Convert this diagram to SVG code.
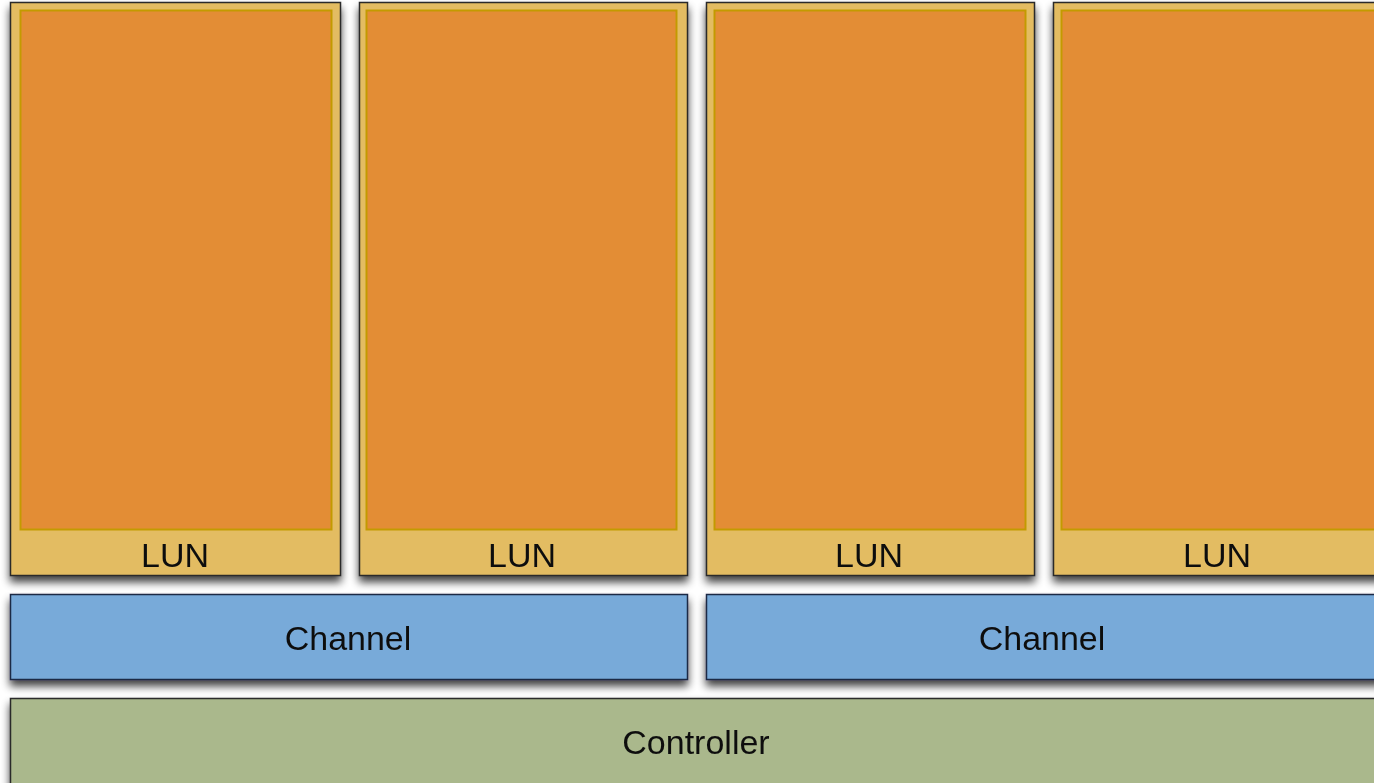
<svg xmlns="http://www.w3.org/2000/svg" width="1374" height="783" viewBox="0 0 1374 783">
<defs>
<filter id="sh" x="-10%" y="-10%" width="120%" height="130%">
<feGaussianBlur in="SourceAlpha" stdDeviation="4"/>
<feOffset dx="0" dy="6" result="b"/>
<feComponentTransfer><feFuncA type="linear" slope="0.75"/></feComponentTransfer>
<feMerge><feMergeNode/><feMergeNode in="SourceGraphic"/></feMerge>
</filter>
</defs>
<style>
.lun{fill:#E3BC62;stroke:#2b2b2b;stroke-width:1.5}
.die{fill:#E38D36;stroke:#C39A00;stroke-width:2}
.ch{fill:#78AAD9;stroke:#1c2a45;stroke-width:1.5}
.ct{fill:#AAB88C;stroke:#2b2b2b;stroke-width:1.5}
text{font-family:"Liberation Sans",Arial,sans-serif;font-size:34px;fill:#111;text-anchor:middle}
</style>
<rect width="1374" height="783" fill="#ffffff"/>
<g id="lun1" filter="url(#sh)"><rect class="lun" x="10.5" y="2.5" width="330" height="573"/><rect class="die" x="20.5" y="10.5" width="311" height="519"/><text x="175" y="567">LUN</text></g>
<g id="lun2" filter="url(#sh)"><rect class="lun" x="359.5" y="2.5" width="328" height="573"/><rect class="die" x="366.5" y="10.5" width="310" height="519"/><text x="522" y="567">LUN</text></g>
<g id="lun3" filter="url(#sh)"><rect class="lun" x="706.5" y="2.5" width="328" height="573"/><rect class="die" x="714.5" y="10.5" width="311" height="519"/><text x="869" y="567">LUN</text></g>
<g id="lun4" filter="url(#sh)"><rect class="lun" x="1053.5" y="2.5" width="330" height="573"/><rect class="die" x="1061.5" y="10.5" width="320" height="519"/><text x="1217" y="567">LUN</text></g>
<g id="ch1" filter="url(#sh)"><rect class="ch" x="10.5" y="594.5" width="677" height="85"/><text x="348" y="650">Channel</text></g>
<g id="ch2" filter="url(#sh)"><rect class="ch" x="706.5" y="594.5" width="680" height="85"/><text x="1042" y="650">Channel</text></g>
<g id="ctrl" filter="url(#sh)"><rect class="ct" x="10.5" y="698.5" width="1380" height="100"/><text x="696" y="754">Controller</text></g>
<g id="connectors"></g>
</svg>
